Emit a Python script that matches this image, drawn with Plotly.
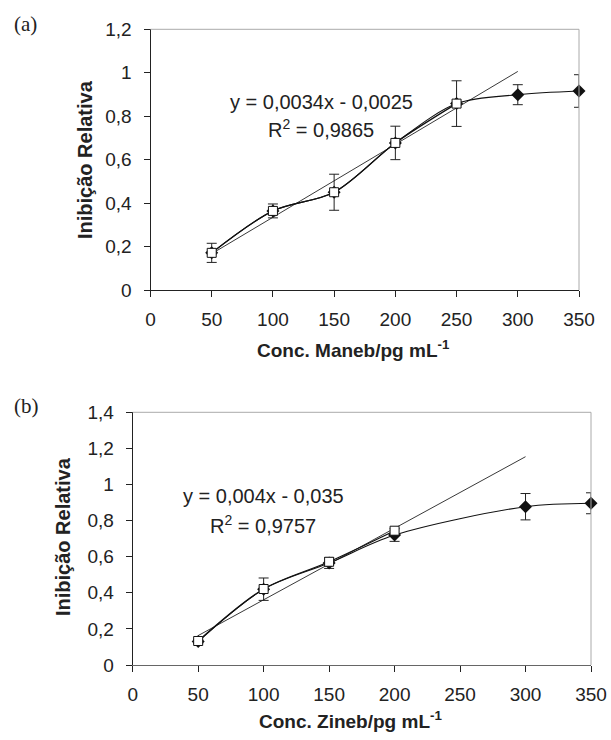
import plotly.graph_objects as go

W, H = 611, 740

# ---------------- data (a) Maneb ----------------
a_x = [50, 100, 150, 200, 250, 300, 350]
a_y = [0.171, 0.364, 0.450, 0.677, 0.858, 0.899, 0.916]
a_err = [0.044, 0.032, 0.083, 0.077, 0.105, 0.046, 0.075]
a_lin_x = [50, 100, 150, 200, 250]
a_lin_y = [0.171, 0.364, 0.450, 0.677, 0.858]
a_trend_x = [50, 300]
a_trend_y = [0.167, 1.006]
a_eq = "y = 0,0034x - 0,0025"
a_r2 = "R<sup>2</sup> = 0,9865"

# ---------------- data (b) Zineb ----------------
b_x = [50, 100, 150, 200, 300, 350]
b_y = [0.130, 0.420, 0.565, 0.720, 0.877, 0.896]
b_err = [0.010, 0.062, 0.030, 0.035, 0.073, 0.058]
b_lin_x = [50, 100, 150, 200]
b_lin_y = [0.133, 0.421, 0.572, 0.744]
b_trend_x = [50, 300]
b_trend_y = [0.163, 1.154]
b_eq = "y = 0,004x - 0,035"
b_r2 = "R<sup>2</sup> = 0,9757"

x_ticks = [0, 50, 100, 150, 200, 250, 300, 350]
a_yticks = [0, 0.2, 0.4, 0.6, 0.8, 1.0, 1.2]
a_yticktext = ["0", "0,2", "0,4", "0,6", "0,8", "1", "1,2"]
b_yticks = [0, 0.2, 0.4, 0.6, 0.8, 1.0, 1.2, 1.4]
b_yticktext = ["0", "0,2", "0,4", "0,6", "0,8", "1", "1,2", "1,4"]

FONT = "Liberation Sans, Arial, sans-serif"
INK = "#222"


def px(x):
    return x / W


def py(y):
    return 1 - y / H


fig = go.Figure()


def add_panel(xa, ya, tx, ty, sx, sy, serr, lx, ly):
    fig.add_trace(go.Scatter(x=tx, y=ty, mode="lines", xaxis=xa, yaxis=ya,
                             line=dict(color=INK, width=0.9), hoverinfo="skip"))
    fig.add_trace(go.Scatter(x=sx, y=sy, mode="lines+markers", xaxis=xa, yaxis=ya,
                             line=dict(color="#111", width=1.1, shape="spline", smoothing=0.9),
                             marker=dict(symbol="diamond", size=10, color="#111"),
                             error_y=dict(type="data", array=serr, visible=True,
                                          color=INK, thickness=1, width=5),
                             cliponaxis=False))
    fig.add_trace(go.Scatter(x=lx, y=ly, mode="lines+markers", xaxis=xa, yaxis=ya,
                             line=dict(color="#111", width=1.3, shape="spline", smoothing=0.9),
                             marker=dict(symbol="square", size=9, color="white",
                                         line=dict(color="#111", width=1)),
                             cliponaxis=False))


add_panel("x", "y", a_trend_x, a_trend_y, a_x, a_y, a_err, a_lin_x, a_lin_y)
add_panel("x2", "y2", b_trend_x, b_trend_y, b_x, b_y, b_err, b_lin_x, b_lin_y)

common_x = dict(range=[0, 350], tickvals=x_ticks, ticks="outside", ticklen=6,
                tickcolor=INK, showline=True, linecolor=INK, linewidth=1,
                showgrid=False, zeroline=False, fixedrange=True, ticklabelstandoff=6,
                automargin=False,
                tickfont=dict(family=FONT, size=19, color=INK))
common_y = dict(ticks="outside", ticklen=6, tickcolor=INK, showline=True,
                linecolor=INK, linewidth=1, showgrid=False, zeroline=False,
                ticklabelstandoff=8, fixedrange=True, automargin=False,
                tickfont=dict(family=FONT, size=19, color=INK))

fig.update_layout(
    width=W, height=H, margin=dict(l=0, r=0, t=0, b=0, pad=0, autoexpand=False),
    paper_bgcolor="white", plot_bgcolor="white", showlegend=False,
    xaxis=dict(domain=[px(150.5), px(579)], anchor="y", **common_x),
    yaxis=dict(domain=[py(290), py(29.3)], anchor="x", range=[0, 1.2],
               tickvals=a_yticks, ticktext=a_yticktext, **common_y),
    xaxis2=dict(domain=[px(132.7), px(591)], anchor="y2", **common_x),
    yaxis2=dict(domain=[py(665), py(412.3)], anchor="x2", range=[0, 1.4],
                tickvals=b_yticks, ticktext=b_yticktext, **common_y),
)
fig.layout.xaxis2.linecolor = "#666"

# gray top/right borders
for xr, yr in (("x", "y"), ("x2", "y2")):
    fig.add_shape(type="line", xref=f"{xr} domain", yref=f"{yr} domain",
                  x0=0, x1=1, y0=1, y1=1, line=dict(color="#aaa", width=1))
    fig.add_shape(type="line", xref=f"{xr} domain", yref=f"{yr} domain",
                  x0=1, x1=1, y0=0, y1=1, line=dict(color="#aaa", width=1))


def note(x, y, text, size, xref="paper", yref="paper", bold=False, angle=0, family=FONT):
    if bold:
        text = f"<b>{text}</b>"
    return dict(x=x, y=y, xref=xref, yref=yref, text=text, showarrow=False,
                xanchor="center", yanchor="middle", textangle=angle,
                font=dict(family=family, size=size, color=INK))


ann = [
    note(139.3, 0.865, a_eq, 20, "x", "y"),
    note(139.3, 0.743, a_r2, 20, "x", "y"),
    note(99.7, 0.936, b_eq, 20, "x2", "y2"),
    note(99.7, 0.776, b_r2, 20, "x2", "y2"),
    note(px(353), py(349), "Conc. Maneb/pg mL<sup>-1</sup>", 19, bold=True),
    note(px(85), py(160), "Inibição Relativa", 20, bold=True, angle=-90),
    note(px(350), py(720), "Conc. Zineb/pg mL<sup>-1</sup>", 19, bold=True),
    note(px(63), py(537), "Inibição Relativa", 20, bold=True, angle=-90),
    note(px(25), py(24), "(a)", 21, family="Liberation Serif, serif"),
    note(px(26), py(406), "(b)", 21, family="Liberation Serif, serif"),
]
fig.update_layout(annotations=ann)

fig.write_html("out.html")
